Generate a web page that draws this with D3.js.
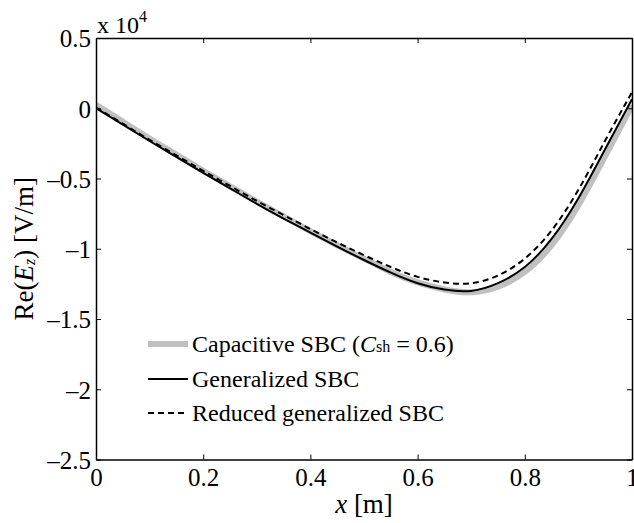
<!DOCTYPE html>
<html>
<head>
<meta charset="utf-8">
<script src="https://cdn.jsdelivr.net/npm/d3@7"></script>
<style>
  body { margin: 0; background: #fff; }
  text { font-family: "Liberation Serif", "Times New Roman", serif; fill: #000; }
</style>
</head>
<body>
<div id="chart"></div>
<script>
// values (y in units of 10^4 V/m)
var xs          = [0, 0.05, 0.1, 0.15, 0.2, 0.25, 0.3, 0.35, 0.4, 0.45, 0.5, 0.55, 0.6, 0.65, 0.7, 0.75, 0.8, 0.85, 0.9, 0.95, 1.0];
var generalized = [0, -0.117, -0.233, -0.347, -0.46, -0.57, -0.68, -0.785, -0.885, -0.985, -1.08, -1.17, -1.245, -1.29, -1.30, -1.245, -1.13, -0.93, -0.64, -0.29, 0.065];
var reduced     = [0.005, -0.11, -0.225, -0.335, -0.445, -0.553, -0.66, -0.76, -0.86, -0.955, -1.045, -1.13, -1.20, -1.24, -1.245, -1.19, -1.07, -0.87, -0.58, -0.23, 0.115];
var capacitive  = [0.025, -0.095, -0.215, -0.33, -0.445, -0.555, -0.665, -0.77, -0.875, -0.975, -1.07, -1.165, -1.24, -1.29, -1.31, -1.27, -1.165, -0.975, -0.69, -0.34, 0.02];

var xTicks = [0, 0.2, 0.4, 0.6, 0.8, 1];
var yTicks = [0.5, 0, -0.5, -1, -1.5, -2, -2.5];

var width = 634, height = 523;
var margin = {top: 38, right: 2, bottom: 63.5, left: 96},
    plotW = width - margin.left - margin.right,
    plotH = height - margin.top - margin.bottom;

var svg = d3.select('#chart').append('svg')
  .attr('width', width)
  .attr('height', height);

var g = svg.append('g')
  .attr('transform', 'translate(' + margin.left + ',' + margin.top + ')');

var xScale = d3.scaleLinear().domain([0, 1]).range([0, plotW]);
var yScale = d3.scaleLinear().domain([-2.5, 0.5]).range([plotH, 0]);

function fmt(v) {
  return (v < 0 ? '\u2013' : '') + Math.abs(v);
}

// clip to the box
g.append('clipPath').attr('id', 'clip')
  .append('rect').attr('width', plotW).attr('height', plotH);

var line = d3.line()
  .x(function(d) { return xScale(d[0]); })
  .y(function(d) { return yScale(d[1]); })
  .curve(d3.curveNatural);

function pairs(ys) {
  return xs.map(function(x, i) { return [x, ys[i]]; });
}

var curves = g.append('g').attr('clip-path', 'url(#clip)');

curves.append('path')
  .attr('d', line(pairs(capacitive)))
  .attr('fill', 'none')
  .attr('stroke', '#c0c0c0')
  .attr('stroke-width', 6);

curves.append('path')
  .attr('d', line(pairs(generalized)))
  .attr('fill', 'none')
  .attr('stroke', '#000')
  .attr('stroke-width', 2);

curves.append('path')
  .attr('d', line(pairs(reduced)))
  .attr('fill', 'none')
  .attr('stroke', '#000')
  .attr('stroke-width', 2)
  .attr('stroke-dasharray', '6,4');

// axes, ticks inside on all four sides
var tickLen = 5;
var axB = d3.axisBottom(xScale).tickValues(xTicks).tickSizeInner(-tickLen).tickSizeOuter(0).tickPadding(9).tickFormat(fmt);
var axT = d3.axisTop(xScale).tickValues(xTicks).tickSizeInner(-tickLen).tickSizeOuter(0).tickFormat('');
var axL = d3.axisLeft(yScale).tickValues(yTicks).tickSizeInner(-tickLen).tickSizeOuter(0).tickPadding(5).tickFormat(fmt);
var axR = d3.axisRight(yScale).tickValues(yTicks).tickSizeInner(-tickLen).tickSizeOuter(0).tickFormat('');

var gb = g.append('g').attr('transform', 'translate(0,' + plotH + ')').call(axB);
var gt = g.append('g').call(axT);
var gl = g.append('g').call(axL);
var gr = g.append('g').attr('transform', 'translate(' + plotW + ',0)').call(axR);

[gb, gt, gl, gr].forEach(function(a) {
  a.select('.domain').attr('stroke', '#000').attr('stroke-width', 1.5);
  a.selectAll('.tick line').attr('stroke', '#000').attr('stroke-width', 1);
  a.selectAll('.tick text')
    .style('font-family', '"Liberation Serif", serif')
    .style('font-size', '25px')
    .attr('fill', '#000');
});
gl.selectAll('.tick text').attr('dy', '0.35em');

// exponent label
var ex = svg.append('text')
  .attr('x', 97)
  .attr('y', 33)
  .style('font-size', '24px');
ex.append('tspan').text('x 10');
ex.append('tspan').attr('dy', -11).style('font-size', '16px').text('4');

// axis labels
var xl = svg.append('text')
  .attr('x', margin.left + plotW / 2)
  .attr('y', 513)
  .attr('text-anchor', 'middle')
  .style('font-size', '27px');
xl.append('tspan').style('font-style', 'italic').text('x');
xl.append('tspan').text(' [m]');

var yl = svg.append('text')
  .attr('transform', 'translate(33,' + (margin.top + plotH / 2) + ') rotate(-90)')
  .attr('text-anchor', 'middle')
  .style('font-size', '27px');
yl.append('tspan').text('Re(');
yl.append('tspan').style('font-style', 'italic').text('E');
yl.append('tspan').style('font-style', 'italic').style('font-size', '16px').attr('dy', 2).text('z');
yl.append('tspan').attr('dy', -2).text(') [V/m]');

// legend
var legendItems = [
  {key: 'cap', color: '#c0c0c0', w: 6, dash: null},
  {key: 'gen', color: '#000', w: 2, dash: null},
  {key: 'red', color: '#000', w: 2, dash: '6,4'}
];
var legendY = [344, 379, 413];

var leg = svg.append('g');
legendItems.forEach(function(d, i) {
  leg.append('line')
    .attr('x1', 148).attr('x2', 188)
    .attr('y1', legendY[i]).attr('y2', legendY[i])
    .attr('stroke', d.color)
    .attr('stroke-width', d.w)
    .attr('stroke-dasharray', d.dash);
  var t = leg.append('text')
    .attr('x', 192)
    .attr('y', legendY[i] + 8)
    .style('font-size', '24px');
  if (d.key === 'cap') {
    t.append('tspan').text('Capacitive SBC (');
    t.append('tspan').style('font-style', 'italic').text('C');
    t.append('tspan').style('font-size', '16px').text('sh');
    t.append('tspan').text(' = 0.6)');
  } else if (d.key === 'gen') {
    t.text('Generalized SBC');
  } else {
    t.text('Reduced generalized SBC');
  }
});
</script>
</body>
</html>
